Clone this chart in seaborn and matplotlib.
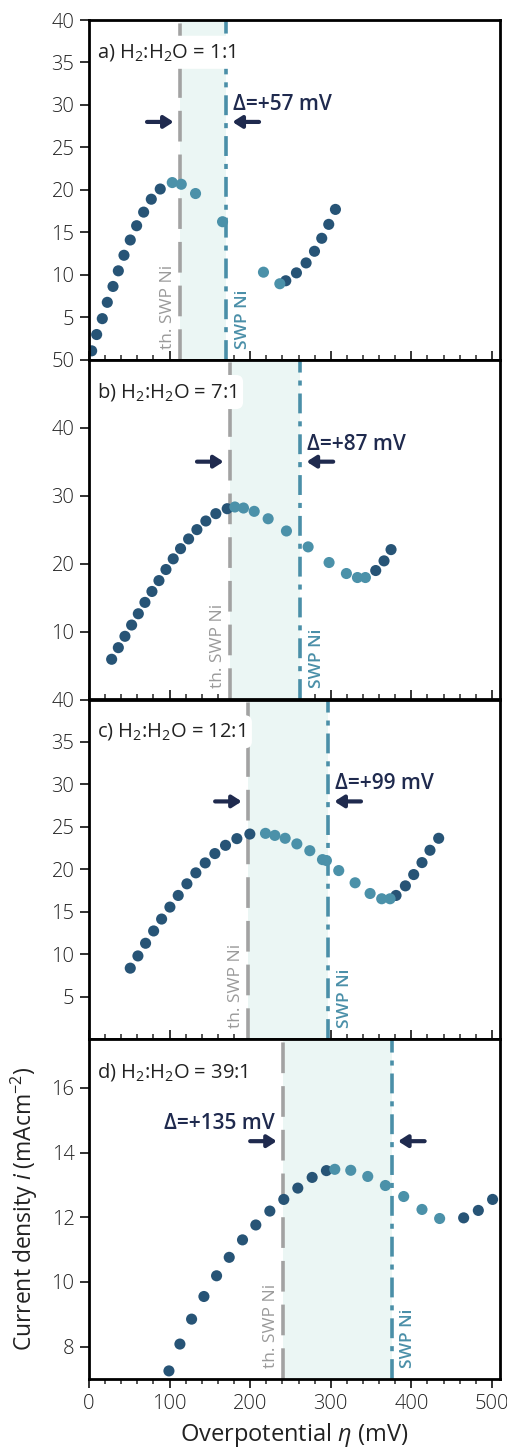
import matplotlib
matplotlib.use("Agg")
import matplotlib.pyplot as plt
import seaborn as sns
import pandas as pd

# ---------------- data ----------------
# panel a  (H2:H2O = 1:1)
eta_a_dark = [3.3, 9.5, 16.5, 22.7, 29.8, 36.4, 43.4, 51.2, 59.1, 67.8, 77.3, 88.4,
              244.2, 257.4, 269.4, 279.8, 288.8, 297.5, 305.8]
i_a_dark = [1.05, 2.97, 4.84, 6.76, 8.63, 10.47, 12.3, 14.1, 15.78, 17.38, 18.9, 20.1,
            9.3, 10.23, 11.4, 12.77, 14.3, 15.94, 17.7]
eta_a_light = [103.3, 114.5, 132.2, 165.7, 216.5, 236.8]
i_a_light = [20.86, 20.66, 19.57, 16.25, 10.31, 8.95]

# panel b  (H2:H2O = 7:1)
eta_b_dark = [28.1, 36.4, 44.6, 52.9, 61.2, 69.4, 78.1, 86.8, 95.5, 104.5, 113.6, 123.6,
              133.9, 145.0, 157.4, 171.5, 355.8, 366.1, 374.8]
i_b_dark = [5.92, 7.63, 9.30, 10.96, 12.62, 14.29, 15.9, 17.5, 19.13, 20.7, 22.2, 23.63,
            25.0, 26.27, 27.35, 28.08, 18.98, 20.4, 22.06]
eta_b_light = [181.0, 191.7, 205.0, 222.3, 245.0, 271.9, 297.9, 319.4, 333.1, 343.0]
i_b_light = [28.33, 28.18, 27.69, 26.6, 24.8, 22.46, 20.16, 18.54, 17.95, 17.95]

# panel c  (H2:H2O = 12:1)
eta_c_dark = [51.2, 60.7, 70.2, 80.2, 90.1, 100.4, 110.7, 121.5, 132.6, 144.2, 156.2, 169.4,
              183.5, 199.6, 381.0, 392.6, 402.9, 413.2, 423.1, 433.9]
i_c_dark = [8.37, 9.81, 11.3, 12.75, 14.15, 15.56, 16.93, 18.3, 19.59, 20.76, 21.86, 22.83,
            23.62, 24.16, 16.93, 18.06, 19.39, 20.8, 22.25, 23.66]
eta_c_light = [219.0, 230.6, 243.4, 257.9, 274.0, 289.7, 294.6, 309.9, 330.2, 348.8, 363.2, 373.6]
i_c_light = [24.24, 24.0, 23.66, 23.0, 22.2, 21.15, 21.04, 19.86, 18.42, 17.16, 16.54, 16.54]

# panel d  (H2:H2O = 39:1)
eta_d_dark = [99.2, 112.8, 127.3, 142.6, 158.3, 174.0, 190.5, 207.0, 224.4, 241.7, 259.1,
              276.9, 294.6, 464.9, 483.1, 500.8]
i_d_dark = [7.25, 8.08, 8.85, 9.55, 10.19, 10.76, 11.3, 11.76, 12.19, 12.55, 12.90,
            13.23, 13.44, 11.98, 12.21, 12.55]
eta_d_light = [305.0, 324.8, 345.9, 367.8, 390.5, 413.2, 435.1]
i_d_light = [13.48, 13.45, 13.26, 12.98, 12.64, 12.24, 11.96]

panel_labels = ["a) H$_2$:H$_2$O = 1:1", "b) H$_2$:H$_2$O = 7:1",
                "c) H$_2$:H$_2$O = 12:1", "d) H$_2$:H$_2$O = 39:1"]
th_swp = [113.0, 175.0, 197.5, 241.0]      # theoretical SWP Ni (mV)
swp = [170.0, 262.0, 296.5, 375.5]         # measured SWP Ni (mV)
delta_labels = ["Δ=+57 mV", "Δ=+87 mV", "Δ=+99 mV", "Δ=+135 mV"]
y_limits = [(0, 40), (0, 50), (0, 40), (7, 17.5)]
y_ticks = [[5, 10, 15, 20, 25, 30, 35, 40], [10, 20, 30, 40, 50],
           [5, 10, 15, 20, 25, 30, 35, 40], [8, 10, 12, 14, 16]]
x_ticks = [0, 100, 200, 300, 400, 500]

panels = [
    (eta_a_dark, i_a_dark, eta_a_light, i_a_light),
    (eta_b_dark, i_b_dark, eta_b_light, i_b_light),
    (eta_c_dark, i_c_dark, eta_c_light, i_c_light),
    (eta_d_dark, i_d_dark, eta_d_light, i_d_light),
]

# ---------------- style ----------------
sns.set_style("ticks")
FONT = "Open Sans"
plt.rcParams["font.family"] = [FONT, "DejaVu Sans"]
plt.rcParams["mathtext.fontset"] = "custom"
plt.rcParams["mathtext.rm"] = FONT
plt.rcParams["mathtext.it"] = FONT + ":italic"
plt.rcParams["mathtext.bf"] = FONT + ":bold"

DARK = "#275476"
LIGHT = "#4b91a9"
GRAY = "#a2a2a2"
TEAL = "#4a8fa8"
SHADE = "#ebf6f4"
NAVY = "#1f2a4e"
TXT = "#222222"

fig = plt.figure(figsize=(5.07, 14.5), dpi=100)
left, right = 89 / 507, 500 / 507
top_px, bot_px = 20, 1379
h_px = (bot_px - top_px) / 4

axes = []
for k in range(4):
    y0 = 1 - (top_px + (k + 1) * h_px) / 1450
    ax = fig.add_axes([left, y0, right - left, h_px / 1450])
    axes.append(ax)

for k, ax in enumerate(axes):
    ed, idk, el, il = panels[k]
    df_d = pd.DataFrame({"eta": ed, "i": idk})
    df_l = pd.DataFrame({"eta": el, "i": il})

    ax.axvspan(th_swp[k], swp[k], color=SHADE, lw=0, zorder=1)
    ax.axvline(th_swp[k], color=GRAY, lw=2.6, ls=(0, (8.5, 3.6)), zorder=2)
    ax.axvline(swp[k], color=TEAL, lw=2.6, ls=(0, (5.5, 2.2, 1.4, 2.2)), zorder=2)

    sns.scatterplot(data=df_d, x="eta", y="i", color=DARK, s=64, edgecolor="none",
                    ax=ax, zorder=4, legend=False)
    sns.scatterplot(data=df_l, x="eta", y="i", color=LIGHT, s=64, edgecolor="none",
                    ax=ax, zorder=5, legend=False)

    ax.set_xlim(0, 510)
    ax.set_ylim(*y_limits[k])
    ax.set_yticks(y_ticks[k])
    ax.set_xticks(x_ticks)
    ax.set_xticks(range(0, 511, 20), minor=True)
    ax.set_xlabel("")
    ax.set_ylabel("")

    xt = ax.get_xaxis_transform()
    # vertical labels
    ax.text(th_swp[k] - 5, 0.033, "th. SWP Ni", rotation=90, ha="right", va="bottom",
            color="#9a9a9a", fontsize=12.5, transform=xt, zorder=3)
    ax.text(swp[k] + 11, 0.033, "SWP Ni", rotation=90, ha="left", va="bottom",
            color=TEAL, fontsize=12.5, fontweight="semibold", transform=xt, zorder=3)

    # arrows
    arrow_kw = dict(arrowstyle="-|>,head_length=0.5,head_width=0.32", color=NAVY,
                    lw=3.0, shrinkA=0, shrinkB=0, mutation_scale=11)
    ax.annotate("", xy=(th_swp[k] - 8, 0.70), xytext=(th_swp[k] - 41, 0.70),
                xycoords=xt, textcoords=xt, arrowprops=arrow_kw, zorder=6)
    ax.annotate("", xy=(swp[k] + 8, 0.70), xytext=(swp[k] + 41, 0.70),
                xycoords=xt, textcoords=xt, arrowprops=arrow_kw, zorder=6)

    # delta text
    if k < 3:
        ax.text(swp[k] + 9, 0.752, delta_labels[k], ha="left", va="center", color=NAVY,
                fontsize=15, fontweight="semibold", transform=xt, zorder=6)
    else:
        ax.text(th_swp[k] - 10, 0.752, delta_labels[k], ha="right", va="center", color=NAVY,
                fontsize=15, fontweight="semibold", transform=xt, zorder=6)

    # panel label
    ax.text(10.5, 0.905, panel_labels[k], ha="left", va="center", color=TXT, fontsize=14.5,
            transform=xt, zorder=7,
            bbox=dict(boxstyle="round,pad=0.3,rounding_size=0.35", fc="white", ec="none"))

    for s in ax.spines.values():
        s.set_linewidth(2.0)
        s.set_color("black")
        s.set_zorder(8)
    ax.tick_params(axis="y", which="major", direction="out", length=6.5, width=1.3,
                   labelsize=14.5, colors=TXT, pad=4)
    if k < 3:
        ax.tick_params(axis="x", which="major", direction="in", length=6.5, width=1.3,
                       labelbottom=False)
        ax.tick_params(axis="x", which="minor", direction="in", length=3.5, width=1.1)
    else:
        ax.tick_params(axis="x", which="major", direction="out", length=6.5, width=1.3,
                       labelsize=14.5, colors=TXT, pad=4)
        ax.tick_params(axis="x", which="minor", direction="out", length=3.5, width=1.1)
        ax.set_xlabel("Overpotential $\\it{\\eta}$ (mV)", fontsize=17, color=TXT, labelpad=5)
        ax.set_ylabel("Current density $\\it{i}$ (mAcm$^{-2}$)", fontsize=16.5, color=TXT,
                      labelpad=8)
    for lab in ax.get_yticklabels() + ax.get_xticklabels():
        lab.set_fontweight("light")

fig.savefig("out.png", dpi=100)
